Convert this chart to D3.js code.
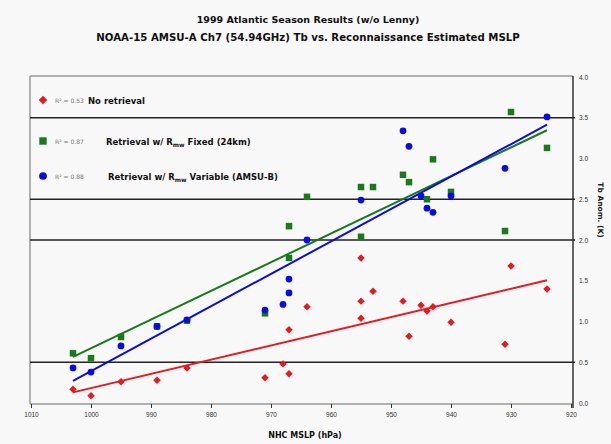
<!DOCTYPE html>
<html><head><meta charset="utf-8">
<script src="https://cdn.jsdelivr.net/npm/d3@7"></script>
<style>
html,body{margin:0;padding:0;background:#f8f8f8;}
svg{display:block;font-family:"DejaVu Sans",Verdana,sans-serif;}
</style></head>
<body><svg id="c" width="611" height="444"></svg>
<script>
// ---- data ----
const titleLines = ["1999 Atlantic Season Results (w/o Lenny)",
  "NOAA-15 AMSU-A Ch7 (54.94GHz) Tb vs. Reconnaissance Estimated MSLP"];
const xTicks = [1010,1000,990,980,970,960,950,940,930,920];
const yTicks = [0,0.5,1,1.5,2,2.5,3,3.5,4];
const gridValues = [0.5,2,2.5,3.5];
const seriesNames = ["No retrieval","Retrieval w/ R","Retrieval w/ R"];
const rSquared = ["R² = 0.53","R² = 0.87","R² = 0.88"];
// [MSLP hPa, Tb anomaly K]
const noRetrieval = [[1003,0.17],[1000,0.09],[995,0.26],[989,0.28],[984,0.43],[971,0.31],[968,0.48],[967,0.36],[967,0.90],[964,1.18],[955,1.25],[955,1.78],[955,1.04],[953,1.37],[948,1.25],[947,0.82],[945,1.20],[944,1.13],[943,1.18],[940,0.99],[931,0.72],[930,1.68],[924,1.40]];
const fixedRmw = [[1003,0.61],[1000,0.55],[995,0.81],[989,0.94],[984,1.01],[971,1.10],[967,1.78],[967,2.17],[964,2.53],[955,2.65],[953,2.65],[955,2.04],[948,2.80],[947,2.71],[944,2.50],[943,2.99],[940,2.59],[931,2.11],[930,3.57],[924,3.13]];
const variableRmw = [[1003,0.43],[1000,0.38],[995,0.70],[989,0.94],[984,1.02],[971,1.14],[968,1.21],[967,1.35],[967,1.52],[964,2.00],[955,2.49],[948,3.34],[947,3.15],[945,2.54],[944,2.39],[943,2.34],[940,2.54],[931,2.88],[924,3.51]];
const colors = ["#e8191e","#187a18","#0a0ae6"];

// ---- layout ----
const svg = d3.select("#c");
const L=30, R=573, T=76, B=404;
const x = d3.scaleLinear().domain([1010,920]).range([L+1,R-2]);
const y = d3.scaleLinear().domain([0,4]).range([B-1,T+1]);

// titles
svg.selectAll("text.title").data(titleLines).enter().append("text")
  .attr("x",308).attr("y",(d,i)=>23+i*18).attr("text-anchor","middle")
  .attr("font-size",(d,i)=>i?10.2:9.5).attr("font-weight","bold").attr("fill","#111").text(d=>d);

// frame
svg.append("line").attr("x1",L).attr("x2",L).attr("y1",T).attr("y2",B).attr("stroke","#999").attr("stroke-width",1.5);
svg.append("line").attr("x1",L).attr("x2",R).attr("y1",T).attr("y2",T).attr("stroke","#999").attr("stroke-width",1.5);
svg.append("line").attr("x1",L).attr("x2",R).attr("y1",B).attr("y2",B).attr("stroke","#999").attr("stroke-width",1.5);
svg.append("line").attr("x1",R).attr("x2",R).attr("y1",T).attr("y2",B+4).attr("stroke","#333").attr("stroke-width",1.5);

// grid
svg.selectAll("line.grid").data(gridValues).enter().append("line")
  .attr("x1",L).attr("x2",R+2).attr("y1",d=>y(d)).attr("y2",d=>y(d))
  .attr("stroke","#222").attr("stroke-width",1.5);

// x axis ticks
const xa = svg.append("g").attr("transform",`translate(0,${B})`)
  .call(d3.axisBottom(x).tickValues(xTicks).tickSize(4).tickFormat(d3.format("d")));
xa.select(".domain").remove();
xa.selectAll("line").attr("stroke","#333");
xa.selectAll("text").attr("font-size",6.5).attr("fill","#333").attr("dy","0.9em");
svg.append("text").attr("x",305).attr("y",438).attr("text-anchor","middle")
  .attr("font-size",8).attr("font-weight","bold").attr("fill","#111").text("NHC MSLP (hPa)");

// y axis right
const ya = svg.append("g").attr("transform",`translate(${R},0)`)
  .call(d3.axisRight(y).tickValues(yTicks).tickSize(0).tickPadding(6));
ya.select(".domain").remove();
ya.selectAll("text").attr("font-size",6.5).attr("fill","#333");
svg.append("text").attr("transform","translate(598,210) rotate(90)").attr("text-anchor","middle")
  .attr("font-size",7.5).attr("font-weight","bold").attr("fill","#222").text("Tb Anom. (K)");

// regression lines
function fit(data){
  const mx=d3.mean(data,d=>d[0]), my=d3.mean(data,d=>d[1]);
  const b=d3.sum(data,d=>(d[0]-mx)*(d[1]-my))/d3.sum(data,d=>(d[0]-mx)**2);
  return [b, my-b*mx];
}
const allSeries=[noRetrieval,fixedRmw,variableRmw];
allSeries.forEach((s,i)=>{
  const [b,a]=fit(s);
  const x0=d3.max(s,d=>d[0]), x1=d3.min(s,d=>d[0]);
  svg.append("line").attr("x1",x(x0)).attr("y1",y(a+b*x0)).attr("x2",x(x1)).attr("y2",y(a+b*x1))
    .attr("stroke",colors[i]).attr("stroke-width",2);
});

// markers
const sym=[d3.symbolSquare,d3.symbolSquare,d3.symbolCircle];
const rot=[45,0,0];
const sizes=[28,42,36];
allSeries.forEach((s,i)=>{
  svg.append("g").selectAll("path").data(s).enter().append("path")
    .attr("transform",d=>`translate(${x(d[0])},${y(d[1])}) rotate(${rot[i]})`)
    .attr("d",d3.symbol().type(sym[i]).size(sizes[i])).attr("fill",colors[i]);
});

// legend
const legY=[100,141,176];
legY.forEach((ly,i)=>{
  svg.append("path").attr("transform",`translate(43,${ly}) rotate(${rot[i]})`)
    .attr("d",d3.symbol().type(sym[i]).size(sizes[i]*1.3)).attr("fill",colors[i]);
  svg.append("text").attr("x",55).attr("y",ly+3).attr("font-size",6).attr("fill","#777").text(rSquared[i]);
  const t=svg.append("text").attr("x",[88,106,108][i]).attr("y",ly+3.5).attr("font-size",8.5)
    .attr("font-weight","bold").attr("fill","#111");
  t.append("tspan").text(seriesNames[i]);
  if(i>0){
    t.append("tspan").attr("font-size",6).attr("dy",2).text("mw");
    t.append("tspan").attr("dy",-2).text(i===1?" Fixed (24km)":" Variable (AMSU-B)");
  }
});
</script></body></html>
